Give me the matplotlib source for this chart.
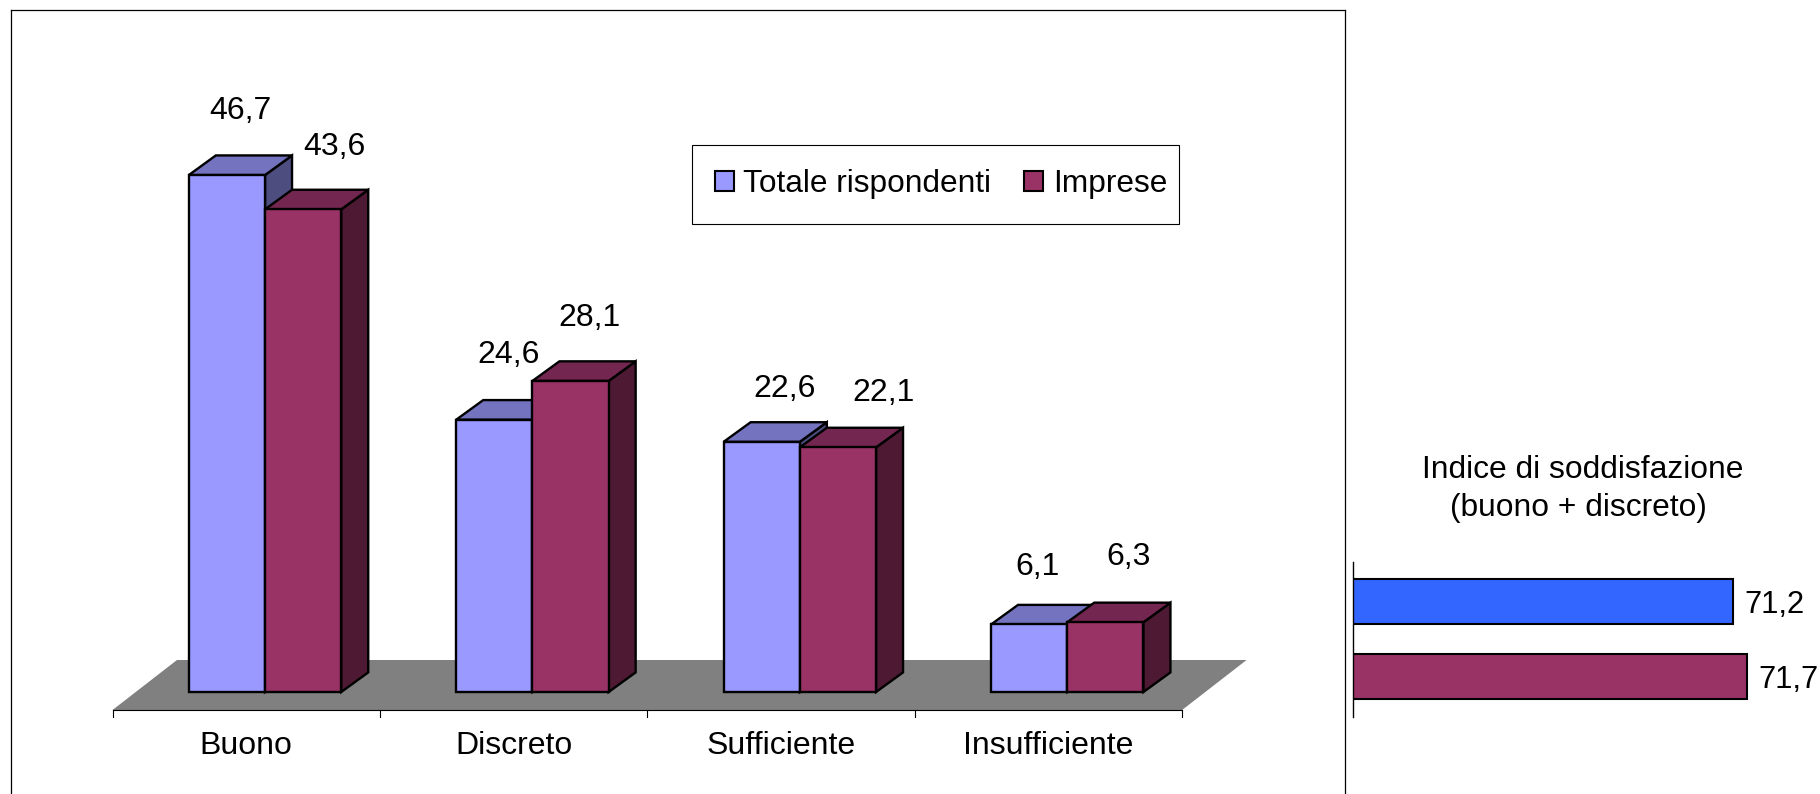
import matplotlib
matplotlib.use("Agg")
import matplotlib.pyplot as plt
from matplotlib.patches import Polygon, Patch, Rectangle

plt.rcParams['font.family'] = ['Liberation Sans', 'DejaVu Sans']

categories = ['Buono', 'Discreto', 'Sufficiente', 'Insufficiente']
totale = [46.7, 24.6, 22.6, 6.1]
imprese = [43.6, 28.1, 22.1, 6.3]
series_names = ['Totale rispondenti', 'Imprese']

indice_values = [71.2, 71.7]

W, H = 1820, 794

# label offsets in pixels from the top left corner of each bar front
totale_offsets = [(52, 64), (52, 65), (61, 53), (47, 57)]
imprese_offsets = [(69, 62), (57, 63), (84, 54), (61, 65)]

# 3d look: front, top, side
blue_cols = ['#9999FF', '#7373BF', '#4D4D80']
red_cols = ['#993366', '#732650', '#4D1933']

fig = plt.figure(figsize=(W / 100, H / 100), dpi=100, facecolor='white')


def px_axes(left, top, right, bottom):
    return fig.add_axes([left / W, 1 - bottom / H, (right - left) / W, (bottom - top) / H])


# main chart, the frame is the axes itself
ax = px_axes(11, 10, 1345, 794)
ax.set_xlim((11 - 246.2) / 267.4, (1345 - 246.2) / 267.4)
ax.set_ylim((692 - 794) / 11.07, (692 - 10) / 11.07)
ax.set_xticks([])
ax.set_yticks([])
ax.spines['bottom'].set_visible(False)
for s in ['left', 'top', 'right']:
    ax.spines[s].set_linewidth(0.9)

bar_w = 76.2 / 267.4
bar_left = -0.2145
dx = 27 / 267.4
dy = 19.6 / 11.07


def draw_bar(x, val, cols, z):
    front = [(x, 0), (x + bar_w, 0), (x + bar_w, val), (x, val)]
    top = [(x, val), (x + bar_w, val), (x + bar_w + dx, val + dy), (x + dx, val + dy)]
    side = [(x + bar_w, 0), (x + bar_w + dx, dy), (x + bar_w + dx, val + dy), (x + bar_w, val)]
    for pts, col in [(side, cols[2]), (top, cols[1]), (front, cols[0])]:
        ax.add_patch(Polygon(pts, closed=True, facecolor=col, edgecolor='black',
                             linewidth=1.7, joinstyle='miter', zorder=z))


# floor
floor_y = (692 - 710) / 11.07
floor_back = (692 - 660) / 11.07
floor_dx = 64.5 / 267.4
ax.add_patch(Polygon([(-0.5, floor_y), (3.5, floor_y), (3.5 + floor_dx, floor_back), (-0.5 + floor_dx, floor_back)],
                     closed=True, facecolor='#808080', edgecolor='none', zorder=1))
ax.plot([-0.5, 3.5], [floor_y, floor_y], color='black', lw=0.8, zorder=2)
for i in range(5):
    ax.plot([i - 0.5, i - 0.5], [floor_y, floor_y - 7 / 11.07], color='black', lw=0.8, zorder=2)

for i, cat in enumerate(categories):
    x1 = i + bar_left
    x2 = x1 + bar_w
    draw_bar(x1, totale[i], blue_cols, 3)
    draw_bar(x2, imprese[i], red_cols, 4)
    ax.text(i, -4.92, cat, ha='center', va='center', fontsize=23)
    ax.annotate(f'{totale[i]:.1f}'.replace('.', ','), (x1, totale[i]), xytext=totale_offsets[i],
                textcoords='offset pixels', ha='center', va='center', fontsize=23)
    ax.annotate(f'{imprese[i]:.1f}'.replace('.', ','), (x2, imprese[i]), xytext=imprese_offsets[i],
                textcoords='offset pixels', ha='center', va='center', fontsize=23)

# legend box is drawn by hand because its padding is uneven in the original
fig.add_artist(Rectangle((692 / W, 1 - 224 / H), 487 / W, 79 / H, transform=fig.transFigure,
                         facecolor='white', edgecolor='black', linewidth=0.8))
handles = [Patch(facecolor=blue_cols[0], edgecolor='black', linewidth=1.5),
           Patch(facecolor=red_cols[0], edgecolor='black', linewidth=1.5)]
leg = fig.legend(handles, series_names, ncol=2, loc='center',
                 bbox_to_anchor=(941 / W, 1 - 184 / H), bbox_transform=fig.transFigure,
                 fontsize=22.8, frameon=False,
                 handlelength=0.6, handleheight=0.6, handletextpad=0.3,
                 columnspacing=1.05, borderpad=0, borderaxespad=0)

# small bars on the right
ax2 = px_axes(1353, 562, 1820, 717)
ax2.set_xlim(57.62, 57.62 + 467 / 28)
ax2.set_ylim(1 + 40.5 / 75, -39.6 / 75)
ax2.patch.set_alpha(0)
ax2.barh([0, 1], indice_values, left=0, height=0.6, color=['#3366FF', '#993366'],
         edgecolor='black', linewidth=1.5)
for s in ['top', 'right', 'bottom']:
    ax2.spines[s].set_visible(False)
ax2.spines['left'].set_linewidth(1.0)
ax2.set_xticks([])
ax2.set_yticks([])
for i, v in enumerate(indice_values):
    ax2.annotate(f'{v:.1f}'.replace('.', ','), (v, i), xytext=(11, -3), textcoords='offset pixels',
                 ha='left', va='center', fontsize=22.2)

fig.text(1583 / W, 1 - 469.5 / H, 'Indice di soddisfazione', ha='center', va='center', fontsize=22.9)
fig.text(1578 / W, 1 - 508 / H, '(buono + discreto)', ha='center', va='center', fontsize=22.9)

fig.savefig('out.png', dpi=100)
plt.close(fig)
